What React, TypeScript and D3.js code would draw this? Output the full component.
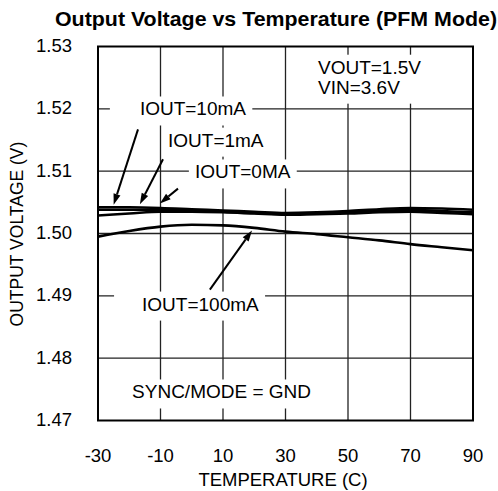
import { useEffect, useRef } from "react";
import * as d3 from "d3";

const temps = [-30, -20, -10, 0, 10, 20, 30, 40, 50, 60, 70, 80, 90];
const iout10mA = [1.5042, 1.5042, 1.5041, 1.5039, 1.5037, 1.5035, 1.5033, 1.5034, 1.5036, 1.5039, 1.5041, 1.504, 1.5038];
const iout1mA = [1.5038, 1.5038, 1.5038, 1.5037, 1.5035, 1.5033, 1.5031, 1.5032, 1.5034, 1.5036, 1.5038, 1.5036, 1.5034];
const iout0mA = [1.5029, 1.5032, 1.5035, 1.5035, 1.5034, 1.5032, 1.503, 1.5031, 1.5032, 1.5034, 1.5035, 1.5033, 1.5031];
const iout100mA = [1.4995, 1.5004, 1.5011, 1.5014, 1.5013, 1.5009, 1.5003, 1.4999, 1.4994, 1.4989, 1.4983, 1.4978, 1.4973];

const xTicks = [-30, -10, 10, 30, 50, 70, 90];
const yTicks = [1.47, 1.48, 1.49, 1.5, 1.51, 1.52, 1.53];

// annotations: text anchor in data units, arrows from -> to in data units
const labels = [
  { lines: ["IOUT=10mA"], t: -16.6, v: 1.52, padL: 30 },
  { lines: ["IOUT=1mA"], t: -7.6, v: 1.515, padL: 4 },
  { lines: ["IOUT=0MA"], t: 1.0, v: 1.5099, padL: 6 },
  { lines: ["IOUT=100mA"], t: -15.9, v: 1.4887, padL: 28 },
  { lines: ["VOUT=1.5V", "VIN=3.6V"], t: 40.4, v: 1.5267, padL: 5 },
  { lines: ["SYNC/MODE = GND"], t: -19.1, v: 1.4746, padL: 7 },
];
const arrows = [
  { from: [-17.2, 1.5167], to: [-25, 1.5046] },
  { from: [-9.2, 1.5119], to: [-16.6, 1.5047] },
  { from: [-4.4, 1.5072], to: [-10.2, 1.5048] },
  { from: [5.8, 1.491], to: [19.3, 1.5005] },
];

const width = 498;
const height = 491;
const marginLeft = 98;
const marginRight = 25;
const marginTop = 46.5;
const marginBottom = 70.5;
const font = "'Liberation Sans', Arial, sans-serif";

const App = () => {
  const annoRef = useRef<SVGGElement>(null);

  const x = d3.scaleLinear().domain([-30, 90]).range([marginLeft, width - marginRight]);
  const y = d3.scaleLinear().domain([1.47, 1.53]).range([height - marginBottom, marginTop]);

  const line = d3
    .line<number>()
    .x((_, i) => x(temps[i]))
    .y((d) => y(d))
    .curve(d3.curveMonotoneX);

  const series = [iout10mA, iout1mA, iout0mA, iout100mA];

  useEffect(() => {
    const g = d3.select(annoRef.current);
    g.selectAll("*").remove();

    labels.forEach((l) => {
      const box = g.append("rect").attr("fill", "white");
      const txt = g
        .append("text")
        .attr("x", x(l.t))
        .attr("y", y(l.v))
        .attr("font-family", font)
        .attr("font-size", 19)
        .attr("fill", "black");
      l.lines.forEach((s, i) => {
        txt
          .append("tspan")
          .attr("x", x(l.t))
          .attr("dy", i === 0 ? "0.35em" : "1.05em")
          .text(s);
      });
      const bb = (txt.node() as SVGTextElement).getBBox();
      box
        .attr("x", bb.x - l.padL)
        .attr("y", bb.y - 2)
        .attr("width", bb.width + l.padL + 6)
        .attr("height", bb.height + 8);
    });

    arrows.forEach((a) => {
      const x0 = x(a.from[0]);
      const y0 = y(a.from[1]);
      const x1 = x(a.to[0]);
      const y1 = y(a.to[1]);
      const ang = Math.atan2(y1 - y0, x1 - x0);
      const len = 11;
      const hw = 3.6;
      const bx = x1 - len * Math.cos(ang);
      const by = y1 - len * Math.sin(ang);
      g.append("line")
        .attr("x1", x0)
        .attr("y1", y0)
        .attr("x2", bx)
        .attr("y2", by)
        .attr("stroke", "black")
        .attr("stroke-width", 2);
      g.append("polygon")
        .attr(
          "points",
          [
            [x1, y1],
            [bx + hw * Math.sin(ang), by - hw * Math.cos(ang)],
            [bx - hw * Math.sin(ang), by + hw * Math.cos(ang)],
          ]
            .map((p) => p.join(","))
            .join(" ")
        )
        .attr("fill", "black");
    });
  }, []);

  return (
    <svg
      width={width}
      height={height}
      viewBox={`0 0 ${width} ${height}`}
      style={{ position: "absolute", left: 0, top: 0, background: "white" }}
    >
      <rect width={width} height={height} fill="white" />
      <text
        x={276}
        y={26}
        textAnchor="middle"
        fontFamily={font}
        fontSize={20.5}
        fontWeight="bold"
        textLength={442}
        lengthAdjust="spacingAndGlyphs"
      >
        Output Voltage vs Temperature (PFM Mode)
      </text>

      <g className="grid" stroke="#222" strokeWidth={1.3}>
        {xTicks.slice(1, -1).map((t) => (
          <line key={t} x1={x(t)} x2={x(t)} y1={y(1.53)} y2={y(1.47)} />
        ))}
        {yTicks.slice(1, -1).map((v) => (
          <line key={v} x1={x(-30)} x2={x(90)} y1={y(v)} y2={y(v)} />
        ))}
      </g>

      <g ref={annoRef} />

      <g className="curves" fill="none" stroke="black" strokeWidth={2.6}>
        {series.map((s, i) => (
          <path key={i} d={line(s) ?? ""} />
        ))}
      </g>

      <rect
        x={x(-30)}
        y={y(1.53)}
        width={x(90) - x(-30)}
        height={y(1.47) - y(1.53)}
        fill="none"
        stroke="black"
        strokeWidth={2}
      />

      <g className="y-ticks" fontFamily={font} fontSize={18.5}>
        {yTicks.map((v) => (
          <text key={v} x={72} y={y(v) - 1} dy="0.35em" textAnchor="end">
            {v.toFixed(2)}
          </text>
        ))}
      </g>
      <g className="x-ticks" fontFamily={font} fontSize={18.5}>
        {xTicks.map((t) => (
          <text key={t} x={x(t)} y={462} textAnchor="middle">
            {t}
          </text>
        ))}
      </g>
      <text x={283} y={486} textAnchor="middle" fontFamily={font} fontSize={18.5}>
        TEMPERATURE (C)
      </text>
      <text
        transform={`translate(23,234) rotate(-90)`}
        textAnchor="middle"
        fontFamily={font}
        fontSize={17.5}
      >
        OUTPUT VOLTAGE (V)
      </text>
    </svg>
  );
};

export default App;
